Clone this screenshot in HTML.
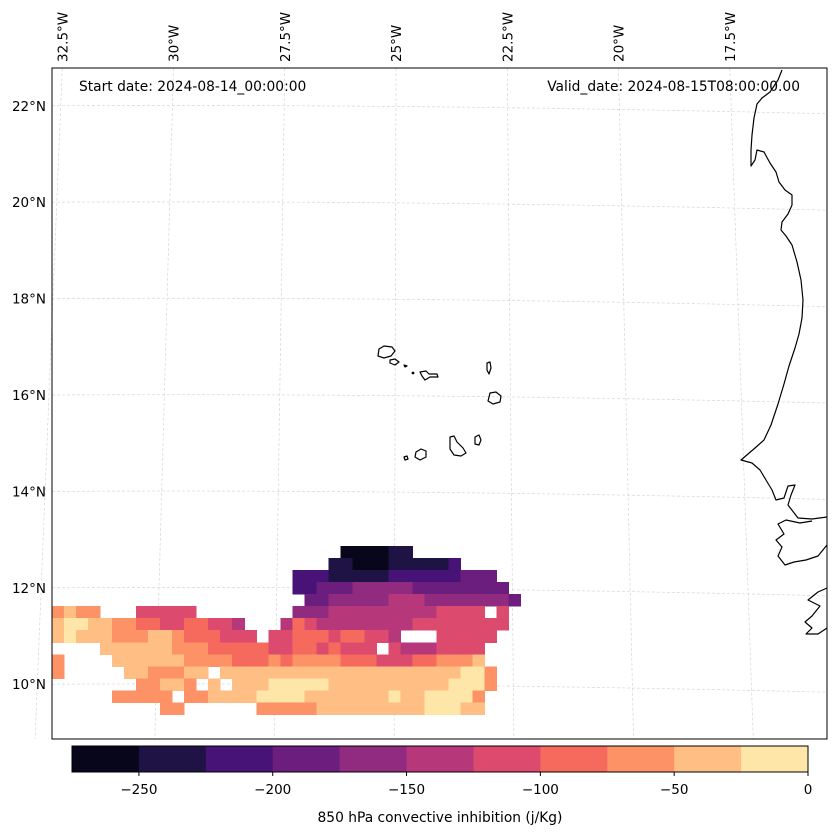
<!DOCTYPE html>
<html><head><meta charset="utf-8"><style>
html,body{margin:0;padding:0;background:#fff;}
svg{display:block;font-family:"DejaVu Sans","Liberation Sans",sans-serif;}
</style></head><body>
<svg id="chart" width="837" height="836" viewBox="0 0 837 836" xmlns="http://www.w3.org/2000/svg">
<g id="grid"></g>
<g id="field" shape-rendering="crispEdges"></g>
<g id="coast" fill="none" stroke="#000" stroke-width="1.2" stroke-linejoin="round">
<path d="M782,70 L778,80 L770,92 L762,98 L757,104 L754,118 L752,135 L751,150 L751,166 L755,160 L757,150 L764,152 L770,163 L776,172 L779,182 L785,190 L792,195 L792,205 L788,214 L782,222 L781,230 L786,236 L792,245 L797,262 L801,280 L803,300 L802,318 L799,334 L795,348 L789,366 L784,384 L778,404 L771,425 L764,440 L755,448 L741,460 L752,463 L760,470 L766,480 L772,490 L776,500 L784,498 L788,486 L795,485 L791,495 L788,505 L798,518 L812,519 L827,517"/>
<path d="M827,545 L818,556 L806,560 L794,562 L785,565 L778,556 L782,547 L776,540 L784,534 L778,524 L786,520 L800,523 L812,521"/>
<path d="M827,588 L818,592 L808,600 L820,606 L812,616 L805,622 L812,628 L806,634 L818,634 L827,628"/>
<path d="M379,349 L384,346 L392,347 L395,351 L391,356 L384,358 L378,356 Z"/>
<path d="M390,360 L395,359 L399,362 L395,365 L390,363 Z"/>
<path d="M404,365 L407,366 L405,367 Z"/>
<path d="M420,372 L426,371 L429,374 L437,374 L438,377 L430,377 L425,380 L422,376 Z"/>
<path d="M487,363 L490,362 L491,368 L489,374 L487,370 Z"/>
<path d="M490,393 L496,392 L501,396 L500,402 L493,404 L488,401 Z"/>
<path d="M475,437 L479,435 L481,440 L479,445 L475,444 Z"/>
<path d="M450,437 L454,436 L457,442 L463,448 L466,453 L461,456 L454,455 L450,449 Z"/>
<path d="M416,452 L421,449 L426,451 L426,457 L420,460 L415,457 Z"/>
<path d="M404,457 L407,456 L408,459 L405,460 Z"/>
<circle cx="413" cy="373" r="0.8" fill="#000"/>
</g>
<rect x="52" y="68" width="775" height="671" fill="none" stroke="#000" stroke-width="1"/>
<g id="lonlabels" font-size="13.5" fill="#000"></g>
<g id="latlabels" font-size="13.5" fill="#000"></g>
<text x="79" y="91" font-size="13.8">Start date: 2024-08-14_00:00:00</text>
<text x="800" y="91" font-size="13.8" text-anchor="end">Valid_date: 2024-08-15T08:00:00.00</text>
<g id="cbar"></g>
<text x="440" y="822" font-size="13.8" text-anchor="middle">850 hPa convective inhibition (j/Kg)</text>
</svg>
<script>
const levels = [-275,-250,-225,-200,-175,-150,-125,-100,-75,-50,-25,0];
const levelColors = ["#07061a","#1f1346","#481376","#6c1e7e","#912b80","#b7387a","#dc4a6e","#f56a5c","#fd9266","#febe84","#fde6a8"];
const cbarTicks = [-250,-200,-150,-100,-50,0];
const lonLabels = ["32.5°W","30°W","27.5°W","25°W","22.5°W","20°W","17.5°W"];
const lonValues = [-32.5,-30,-27.5,-25,-22.5,-20,-17.5];
const latLabels = ["22°N","20°N","18°N","16°N","14°N","12°N","10°N"];
const latValues = [22,20,18,16,14,12,10];
// CIN band index per grid cell ('.' = no data, 0-9,a = band from -275 upward)
const cinRows = [
"........................000011.........",
".......................11000111112.....",
"....................22211111222222333..",
"....................223334444433333333.",
".....................334444455544444443",
"8988...66666........4445555555556666.6.",
"9aa9988776677665...5765555555566666666.",
"9a999888998777666.66777677665...66666.",
"....99999988877777667767666.65556666....",
"8....9999998888777878888777666778889...",
"8.....9988899.99999999999999999999aa8..",
".......88998.9.999aaaaa9999999999aaa8..",
".....88888.889999aaaa9999999a99aaaa8...",
".........88......88888999999999aaa99..."
];
const gridLon0 = -32.73, gridLat0 = 12.87, cellLon = 0.27, cellLat = 0.25;

const NS='http://www.w3.org/2000/svg';
function mk(tag, attrs, parent){const e=document.createElementNS(NS,tag);for(const k in attrs)e.setAttribute(k,attrs[k]);parent.appendChild(e);return e;}
const lonX = lon => 396 + (lon + 25) * 44.5;
const latY = lat => 395 - (lat - 16) * 48.2;
const lonTilt = lon => (lonX(lon) - 420) * 0.076 / 671;
const cbX = v => 72 + (v - levels[0]) / (levels[levels.length-1] - levels[0]) * (808 - 72);

const g = document.getElementById('grid');
lonValues.forEach(lon=>{
  const x0 = lonX(lon), t = lonTilt(lon);
  const l = mk('line',{x1:x0,y1:68,x2:x0+t*671,y2:739,stroke:'#d6d6d6','stroke-width':0.7,'stroke-dasharray':'3,2'},g);
  
  
});
latValues.forEach(lat=>{
  const y = latY(lat);
  const p = mk('path',{d:`M52,${y} Q420,${y-2} 827,${y+8}`,fill:'none',stroke:'#d6d6d6','stroke-width':0.7,'stroke-dasharray':'3,2'},g);
  
  
});

const f = document.getElementById('field');
cinRows.forEach((row,r)=>{
  for(let c=0;c<row.length && c<39;c++){
    const ch=row[c]; if(ch==='.'||ch===' ')continue;
    const idx = ch==='a'?10:parseInt(ch,10);
    const x = lonX(gridLon0 + c*cellLon), y = latY(gridLat0 - r*cellLat);
    const w = lonX(gridLon0+(c+1)*cellLon)-x, h = latY(gridLat0-(r+1)*cellLat)-y;
    const rc = mk('rect',{x:x,y:y,width:w+0.5,height:h+0.5,fill:levelColors[idx]},f);
    
    
  }
});

const ll = document.getElementById('lonlabels');
lonLabels.forEach((s,i)=>{
  const x = lonX(lonValues[i]) + 5;
  const t = mk('text',{x:0,y:0,transform:`translate(${x},62) rotate(-90)`},ll);
  t.textContent = s;
  
  
});
const la = document.getElementById('latlabels');
latLabels.forEach((s,i)=>{
  const t = mk('text',{x:46,y:latY(latValues[i])+5,'text-anchor':'end'},la);
  t.textContent = s;
  
  
});

const cb = document.getElementById('cbar');
levelColors.forEach((col,i)=>{
  const x1 = cbX(levels[i]), x2 = cbX(levels[i+1]);
  const r = mk('rect',{x:x1,y:746,width:x2-x1+0.5,height:26,fill:col},cb);
  
  
});
const fr = mk('rect',{x:72,y:746,width:736,height:26,fill:'none',stroke:'#000','stroke-width':1},cb);


cbarTicks.forEach(v=>{
  const x = cbX(v);
  const tk = mk('line',{x1:x,y1:772,x2:x,y2:776,stroke:'#000','stroke-width':1},cb);
  
  
  const t = mk('text',{x:x,y:794,'text-anchor':'middle','font-size':13.5},cb);
  t.textContent = v<0 ? '\u2212'+Math.abs(v) : String(v);
  
  
});
</script>
</body></html>
